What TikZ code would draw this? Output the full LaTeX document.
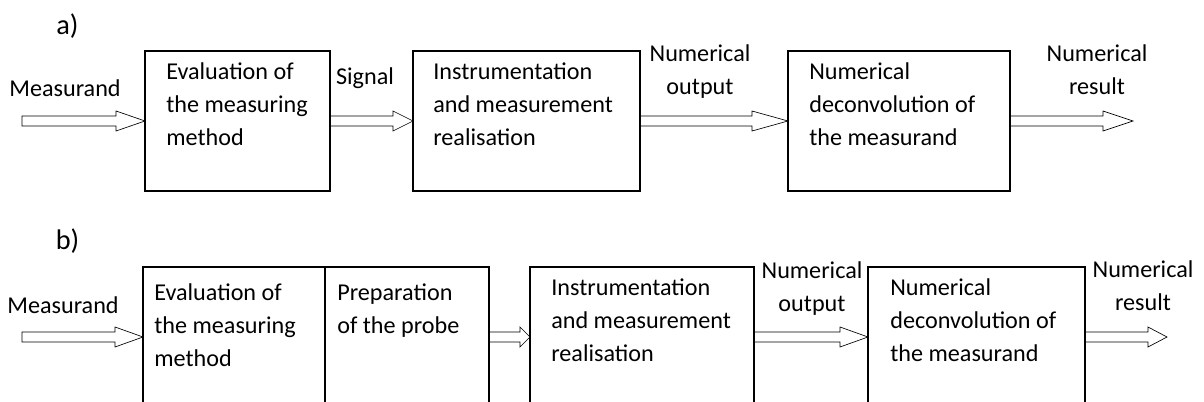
\documentclass[tikz,border=0pt]{standalone}
\usepackage{fontspec}
\setmainfont{Carlito}
\usetikzlibrary{%
  calc,% wg. let
  positioning% wg. " of "
}

\tikzset{
  block/.style={draw, rectangle, minimum height=84pt, inner sep=0pt, outer sep=0pt, line width=1pt},
  blocktext/.style={anchor=north west, align=left, inner sep=0pt, execute at begin node={\strut}},
  partlabel/.style={font=\fontsize{17}{20}\selectfont},
  hollow/.style={line width=1pt, to path={let \p1=(\tikztostart), \p2=(\tikztotarget) in
      (\x1,\y1+3pt) -- (\x2-#1,\y1+3pt) -- (\x2-#1,\y1+6pt) -- (\x2,\y1)
      -- (\x2-#1,\y1-6pt) -- (\x2-#1,\y1-3pt) -- (\x1,\y1-3pt) -- cycle}},
  hollow/.default=17pt
}

\begin{document}
\begin{tikzpicture}[x=0.6pt, y=-0.6pt, font=\fontsize{14.5}{19.8}\selectfont]
    \useasboundingbox (0,0) rectangle (1204,402);

    %a) single chain
    \node[partlabel] (lbl_a) at (67.5,26) {a)};
    \node[block, minimum width=111pt] (a1) at (237.5,121) {};
    \node[block, minimum width=136.2pt] (a2) [right=49.8pt of a1] {};
    \node[block, minimum width=133.2pt] (a3) [right=88.8pt of a2] {};

    \node[blocktext] (a1_txt) at ([xshift=12.6pt,yshift=-7.1pt]a1.north west) {Evaluation of\\the measuring\\method};
    \node[blocktext] (a2_txt) at ([xshift=12pt,yshift=-7.1pt]a2.north west) {Instrumentation\\and measurement\\realisation};
    \node[blocktext] (a3_txt) at ([xshift=12.6pt,yshift=-7.1pt]a3.north west) {Numerical\\deconvolution of\\the measurand};

    \coordinate (in_a) at (22,121);
    \coordinate (out_a) at (1133,121);

    \node[anchor=base] (meas_a) at (65,97) {Measurand};
    \node[anchor=base] (signal_a) at (365,85) {Signal};
    \node[anchor=base, align=center] (numout_a) at (700,95) {Numerical\\output};
    \node[anchor=base, align=center] (numres_a) at (1097,95) {Numerical\\result};

    \draw (in_a) to[hollow=17.4pt] (a1.west);
    \draw (a1.east) to[hollow=12pt] (a2.west);
    \draw (a2.east) to[hollow=21.6pt] (a3.west);
    \draw (a3.east) to[hollow=18pt] (out_a);

    %b) with probe preparation
    \node[partlabel] (lbl_b) at (67.5,241) {b)};
    \node[block, minimum width=109.2pt] (b1) at (234,337) {};
    \node[block, minimum width=98.4pt] (b1_prep) [right=0pt of b1] {};
    \node[block, minimum width=134.4pt] (b2) [right=24.6pt of b1_prep] {};
    \node[block, minimum width=130.2pt] (b3) [right=68.4pt of b2] {};

    \node[blocktext] (b1_txt) at ([xshift=6.6pt,yshift=-10.1pt]b1.north west) {Evaluation of\\the measuring\\method};
    \node[blocktext] (b1_prep_txt) at ([xshift=7.2pt,yshift=-10.1pt]b1_prep.north west) {Preparation\\of the probe};
    \node[blocktext] (b2_txt) at ([xshift=12.6pt,yshift=-7.1pt]b2.north west) {Instrumentation\\and measurement\\realisation};
    \node[blocktext] (b3_txt) at ([xshift=13.2pt,yshift=-7.1pt]b3.north west) {Numerical\\deconvolution of\\the measurand};

    \coordinate (in_b) at (22,337);
    \coordinate (out_b) at (1167,337);

    \node[anchor=base] (meas_b) at (63,313) {Measurand};
    \node[anchor=base, align=center] (numout_b) at (812,311) {Numerical\\output};
    \node[anchor=base, align=center] (numres_b) at (1143,310) {Numerical\\result};

    \draw (in_b) to[hollow=16.8pt] (b1.west);
    \draw (b1_prep.east) to[hollow=6pt] (b2.west);
    \draw (b2.east) to[hollow=16.8pt] (b3.west);
    \draw (b3.east) to[hollow=11.4pt] (out_b);

  \end{tikzpicture}
\end{document}
